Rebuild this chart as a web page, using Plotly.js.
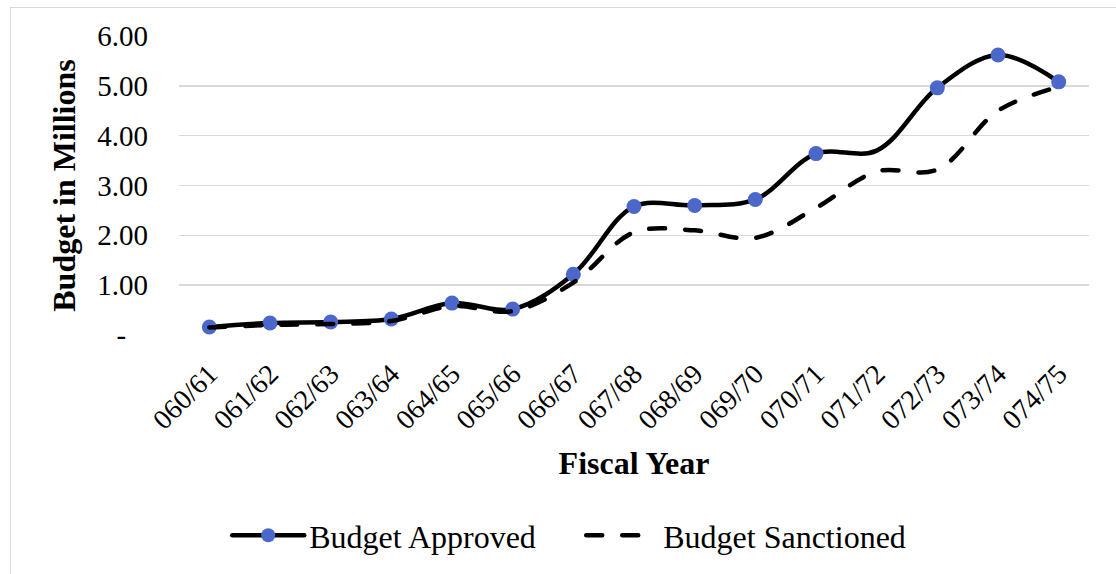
<!DOCTYPE html>
<html>
<head>
<meta charset="utf-8">
<script src="https://cdn.plot.ly/plotly-3.0.1.min.js"></script>
<style>
  html, body { margin: 0; padding: 0; overflow: hidden; background: #fff; }
  #wrap { position: relative; width: 1116px; height: 574px; overflow: hidden; }
  #chart { position: absolute; left: 0; top: 0; width: 1116px; height: 574px; }
  #chart path.js-line { stroke-linecap: round; }
  #frame { position: absolute; left: 10px; top: 7px; width: 1120px; height: 600px;
           border: 1.5px solid #d9d9d9; box-sizing: border-box; pointer-events: none; }
</style>
</head>
<body>
<div id="wrap">
  <div id="chart"></div>
  <div id="frame"></div>
</div>
<script>
// ---- data ----
const fiscalYears = ["060/61","061/62","062/63","063/64","064/65","065/66","066/67",
                     "067/68","068/69","069/70","070/71","071/72","072/73","073/74","074/75"];
const budgetApproved   = [0.16, 0.24, 0.26, 0.32, 0.64, 0.52, 1.22, 2.58, 2.60, 2.72, 3.64, 3.70, 4.96, 5.62, 5.08];
const budgetSanctioned = [0.15, 0.20, 0.22, 0.28, 0.58, 0.48, 1.05, 2.06, 2.10, 1.95, 2.55, 3.28, 3.32, 4.50, 4.98];
const yTickVals = [0, 1, 2, 3, 4, 5, 6];
const yTickText = ["-\u00a0\u00a0\u00a0", "1.00", "2.00", "3.00", "4.00", "5.00", "6.00"];

const serif = "'Liberation Serif', 'Times New Roman', serif";

// marker not shown for 071/72 in the reference
const markerSizes = fiscalYears.map(function (y) { return y === "071/72" ? 0 : 15; });

const traces = [
  {
    x: fiscalYears, y: budgetApproved, name: "Budget Approved",
    type: "scatter", mode: "lines+markers",
    line: { color: "#000000", width: 4.5, shape: "spline", smoothing: 1 },
    marker: { color: "#4a67c9", size: markerSizes, opacity: 1, line: { width: 0 } }
  },
  {
    x: fiscalYears, y: budgetSanctioned, name: "Budget Sanctioned",
    type: "scatter", mode: "lines",
    line: { color: "#000000", width: 4.5, shape: "spline", smoothing: 1, dash: "16px,20px" }
  }
];

const layout = {
  width: 1116, height: 574,
  margin: { l: 179, r: 27, t: 36, b: 238 },
  paper_bgcolor: "#ffffff", plot_bgcolor: "#ffffff",
  font: { family: serif, color: "#000000", size: 28 },
  showlegend: true,
  legend: {
    orientation: "h", x: 0.053, xanchor: "left", y: -0.665, yanchor: "middle",
    font: { family: serif, size: 32, color: "#000000" },
    itemwidth: 72, entrywidth: 267, entrywidthmode: "pixels", tracegroupgap: 0
  },
  xaxis: {
    type: "category", range: [-0.5, 14.5],
    tickangle: -45, tickfont: { family: serif, size: 28 },
    showgrid: false, zeroline: false, showline: false, ticks: "", ticklabelstandoff: 16,
    title: { text: "<b>Fiscal Year</b>", font: { family: serif, size: 32 }, standoff: 17 },
    fixedrange: true
  },
  yaxis: {
    range: [0, 6], tickvals: yTickVals, ticktext: yTickText,
    tickfont: { family: serif, size: 29 },
    showgrid: true, gridcolor: "#d9d9d9", gridwidth: 1.5,
    zeroline: false, showline: false, ticks: "", ticklabelstandoff: 30,
    title: { text: "<b>Budget in Millions</b>", font: { family: serif, size: 32 }, standoff: 12 },
    fixedrange: true
  }
};

Plotly.newPlot("chart", traces, layout, { displayModeBar: false, staticPlot: true });
</script>
</body>
</html>
